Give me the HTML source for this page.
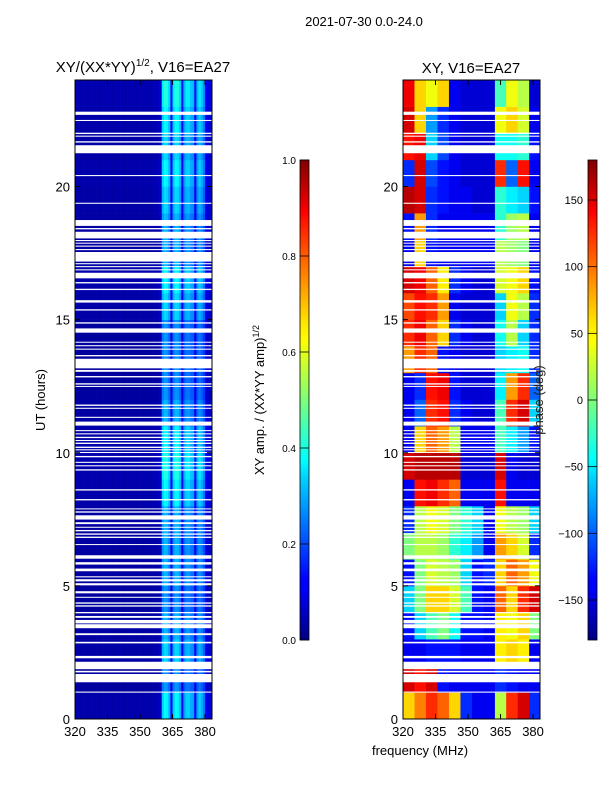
<!DOCTYPE html>
<html><head><meta charset="utf-8"><style>
body{margin:0;background:#fff;}
svg{display:block;font-family:"Liberation Sans",sans-serif;}
</style></head><body>
<svg id="fig" width="600" height="800" viewBox="0 0 600 800">
<defs>
<linearGradient id="jet" x1="0" y1="1" x2="0" y2="0">
<stop offset="0" stop-color="#00007f"/><stop offset="0.11" stop-color="#0000ff"/><stop offset="0.125" stop-color="#0000ff"/>
<stop offset="0.34" stop-color="#00d4ff"/><stop offset="0.375" stop-color="#00ffff"/><stop offset="0.5" stop-color="#7dff7a"/>
<stop offset="0.625" stop-color="#ffff00"/><stop offset="0.66" stop-color="#ffe600"/><stop offset="0.875" stop-color="#ff1300"/>
<stop offset="0.89" stop-color="#ff0000"/><stop offset="1" stop-color="#7f0000"/>
</linearGradient>
</defs>
<text x="364" y="26" font-size="13" text-anchor="middle">2021-07-30 0.0-24.0</text>
<text x="143" y="72" font-size="15" text-anchor="middle">XY/(XX*YY)<tspan font-size="10" dy="-6">1/2</tspan><tspan dy="6">, V16=EA27</tspan></text>
<text x="471" y="73" font-size="15" text-anchor="middle">XY, V16=EA27</text>
<text transform="translate(45,400) rotate(-90)" font-size="13" text-anchor="middle">UT (hours)</text>
<text x="420" y="755" font-size="13" text-anchor="middle">frequency (MHz)</text>
<g id="ampHeat"></g>
<g id="phHeat"></g>
<g id="axes"></g>
<g id="cbars"></g>
</svg>
<script>
const ampFreqs = [320,321,322,323,324,325,326,327,328,329,330,331,332,333,334,335,336,337,338,339,340,341,342,343,344,345,346,347,348,349,350,351,352,353,354,355,356,357,358,359,360,361,362,363,364,365,366,367,368,369,370,371,372,373,374,375,376,377,378,379,380,381,382,383];
const ampCols = [0.04,0.04,0.035,0.04,0.04,0.04,0.035,0.04,0.04,0.04,0.04,0.035,0.04,0.04,0.04,0.04,0.04,0.035,0.04,0.04,0.04,0.04,0.04,0.035,0.04,0.04,0.04,0.04,0.035,0.04,0.04,0.04,0.04,0.04,0.04,0.04,0.045,0.05,0.05,0.06,0.3,0.34,0.33,0.28,0.12,0.3,0.34,0.33,0.28,0.12,0.26,0.3,0.3,0.27,0.26,0.12,0.26,0.3,0.27,0.22,0.1,0.08,0.08,0.08];
const ampRowGain = [1.1,0.8,1.0,0.9,0.8,0.9,0.9,0.9,1.1,1.2,1.1,0.9,0.8,0.8,0.8,1.0,1.1,0.9,0.9,1.0,1.1,1.0,1.1,1.2];
const phaseFreqEdges = [320,325.3,330.6,335.9,341.2,346.5,351.8,357.1,362.4,367.6,372.9,378.2,383.2];
const phaseRows = [
[60,90,120,100,60,-120,-140,-140,20,120,150,-120],
[150,130,150,-130,-140,-140,-140,-140,-120,-130,-140,-140],
[-140,-140,-130,-130,-130,-140,-140,-140,50,60,50,-140],
[-130,-60,-20,0,-40,-130,-130,-140,50,40,60,0],
[-60,0,60,60,30,-20,-130,-140,100,60,120,150],
[-130,0,30,20,10,-60,-130,-120,60,100,80,40],
[0,20,20,10,-30,-50,-80,-140,80,60,30,-120],
[-120,20,40,30,0,-30,-60,-140,40,20,10,-60],
[-140,130,140,120,100,-140,-140,-140,130,-140,-140,-140],
[150,160,160,160,160,-150,-150,-150,150,-140,-150,-150],
[-140,60,100,80,20,-140,-140,-140,-20,-50,-80,-130],
[-140,-100,120,130,-120,-140,-150,-150,-20,120,150,-60],
[-140,-120,130,140,-130,-150,-150,-150,-50,80,120,-100],
[80,120,100,-130,-140,-150,-150,-150,-60,-50,-40,-120],
[120,140,100,60,-120,-140,-150,-150,-40,20,-60,-120],
[110,130,120,80,-140,-150,-150,-150,-60,40,20,-120],
[150,140,100,50,-120,-140,-150,-150,30,40,60,-130],
[-140,60,-130,-140,-140,-140,-140,-140,20,10,0,-140],
[-130,80,-120,-140,-140,-140,-140,-140,-30,10,20,-140],
[160,150,-120,-130,-140,-140,-150,-150,-30,-50,-60,-130],
[-120,150,-110,-130,-140,-150,-150,-150,120,-100,130,-140],
[130,140,-60,-110,-140,-150,-150,-150,-40,-40,-30,-130],
[150,60,-80,-120,-140,-150,-150,-150,40,60,30,-140],
[140,60,40,60,-140,-150,-150,-150,-20,40,20,-150]];
const flaggedStart = [22.69,22.46,21.97,21.87,21.65,21.25,20.39,19.35,18.52,18.39,18.05,17.95,17.87,17.74,17.61,17.18,17.08,16.97,16.85,16.55,16.36,16.11,15.64,15.34,14.85,14.51,14.14,14.00,13.87,13.62,13.17,13.04,12.83,12.56,12.48,11.76,11.65,11.31,11.02,10.81,10.69,10.55,10.44,10.33,10.18,10.09,9.99,9.83,9.62,9.49,9.33,8.58,8.21,7.88,7.75,7.49,7.32,7.19,7.05,6.92,6.80,6.54,6.02,5.80,5.55,5.32,5.17,5.02,4.72,4.57,4.33,4.22,3.97,3.80,3.59,3.41,3.15,2.84,2.28,1.87,1.75,1.38,0.99];
const flaggedEnd   = [22.81,22.50,22.02,21.91,21.70,21.55,20.43,19.39,18.74,18.44,18.30,17.99,17.89,17.78,17.65,17.54,17.12,17.01,16.89,16.76,16.41,16.16,15.73,15.39,14.90,14.67,14.17,14.04,13.91,13.67,13.53,13.11,12.88,12.61,12.51,11.81,11.69,11.35,11.17,10.85,10.73,10.60,10.48,10.38,10.23,10.13,10.03,9.88,9.66,9.53,9.38,8.63,8.26,7.91,7.80,7.65,7.39,7.22,7.10,6.97,6.85,6.57,6.15,5.89,5.65,5.36,5.25,5.10,4.80,4.59,4.38,4.27,4.02,3.87,3.72,3.56,3.22,2.90,2.37,2.15,1.81,1.69,1.03];
const xTicks = [320,335,350,365,380];
const yTicks = [0,5,10,15,20];
const ampCbTicks = ["0.0","0.2","0.4","0.6","0.8","1.0"];
const phCbTicks = [-150,-100,-50,0,50,100,150];

const NS="http://www.w3.org/2000/svg";
const panels=[{x0:75,x1:212,g:'ampHeat',n:'amplitude'},{x0:403,x1:540,g:'phHeat',n:'phase'}];
const Y0=80,Y1=719,FMIN=320,FMAX=383.2;
function yS(h){return Y1-(h/24)*(Y1-Y0);}
function xS(p,f){return p.x0+(f-FMIN)/(FMAX-FMIN)*(p.x1-p.x0);}
function jet(v){v=Math.max(0,Math.min(1,v));
 const r=Math.max(0,Math.min(1,1.5-Math.abs(4*v-3))),g=Math.max(0,Math.min(1,1.5-Math.abs(4*v-2))),b=Math.max(0,Math.min(1,1.5-Math.abs(4*v-1)));
 return `rgb(${Math.round(r*255)},${Math.round(g*255)},${Math.round(b*255)})`;}
function mk(tag,at,parent){const e=document.createElementNS(NS,tag);for(const k in at)e.setAttribute(k,at[k]);parent.appendChild(e);return e;}
(function(){const p=panels[0],G=document.getElementById(p.g);
 for(let i=0;i<ampRowGain.length;i++){for(let j=0;j<ampCols.length;j++){
  const f0=ampFreqs[j],f1=Math.min(FMAX,f0+1);
  const xa=xS(p,f0),xb=xS(p,f1);if(xb<=xa)continue;
  const r=mk('rect',{x:xa,y:yS(i+1),width:xb-xa+0.3,height:yS(i)-yS(i+1)+0.3,fill:jet(ampCols[j]*ampRowGain[i])},G);
  
  
 }}})();
(function(){const p=panels[1],G=document.getElementById(p.g);
 for(let i=0;i<phaseRows.length;i++){for(let j=0;j<phaseRows[i].length;j++){
  const xa=xS(p,phaseFreqEdges[j]),xb=xS(p,phaseFreqEdges[j+1]);
  const r=mk('rect',{x:xa,y:yS(i+1),width:xb-xa+0.3,height:yS(i)-yS(i+1)+0.3,fill:jet((phaseRows[i][j]+180)/360)},G);
  
  
 }}})();
const AX=document.getElementById('axes');
panels.forEach((p,pi)=>{
 for(let k=0;k<flaggedStart.length;k++){
  const r=mk('rect',{x:p.x0,y:yS(flaggedEnd[k]),width:p.x1-p.x0,height:Math.max(1,yS(flaggedStart[k])-yS(flaggedEnd[k])),fill:'#fff'},AX);
  
  
 }
 const fr=mk('rect',{x:p.x0,y:Y0,width:p.x1-p.x0,height:Y1-Y0,fill:'none',stroke:'#000','stroke-width':1},AX);
 
 
 xTicks.forEach(t=>{const x=xS(p,t);
  mk('line',{x1:x,x2:x,y1:Y1,y2:Y1-5,stroke:'#000'},AX);mk('line',{x1:x,x2:x,y1:Y0,y2:Y0+5,stroke:'#000'},AX);
  const tx=mk('text',{x:x,y:Y1+17,'font-size':13,'text-anchor':'middle'},AX);tx.textContent=t;
  
  });
 yTicks.forEach(t=>{const y=yS(t);
  mk('line',{x1:p.x0,x2:p.x0+5,y1:y,y2:y,stroke:'#000'},AX);mk('line',{x1:p.x1,x2:p.x1-5,y1:y,y2:y,stroke:'#000'},AX);
  const tx=mk('text',{x:p.x0-5,y:y+5,'font-size':13,'text-anchor':'end'},AX);tx.textContent=t;
  
  });
});
const CB=document.getElementById('cbars');
const cbs=[{x:300,lbx:296,fs:10,ticks:ampCbTicks.map(Number),lab:ampCbTicks,min:0,max:1,n:'amplitude-colorbar'},
 {x:588,lbx:583,fs:11,ticks:phCbTicks,lab:phCbTicks.map(String).map(s=>s.replace('-','\u2212')),min:-180,max:180,n:'phase-colorbar'}];
cbs.forEach(c=>{const T=160,B=640;
 const r=mk('rect',{x:c.x,y:T,width:9,height:B-T,fill:'url(#jet)',stroke:'#000','stroke-width':0.8},CB);
 
 
 c.ticks.forEach((t,i)=>{const y=B-(t-c.min)/(c.max-c.min)*(B-T);
  mk('line',{x1:c.x,x2:c.x+9,y1:y,y2:y,stroke:'#000','stroke-width':0.8},CB);
  const tx=mk('text',{x:c.lbx,y:y+4,'font-size':c.fs,'text-anchor':'end'},CB);tx.textContent=c.lab[i];
  
  });
});
const l1=mk('text',{transform:'translate(264,400) rotate(-90)','font-size':13,'text-anchor':'middle'},CB);
l1.innerHTML='XY amp. / (XX*YY amp)<tspan font-size="9" dy="-5">1/2</tspan>';


const l2=mk('text',{transform:'translate(543,400) rotate(-90)','font-size':13,'text-anchor':'middle','fill':'#222'},CB);
l2.textContent='phase (deg)';


</script>
</body></html>
